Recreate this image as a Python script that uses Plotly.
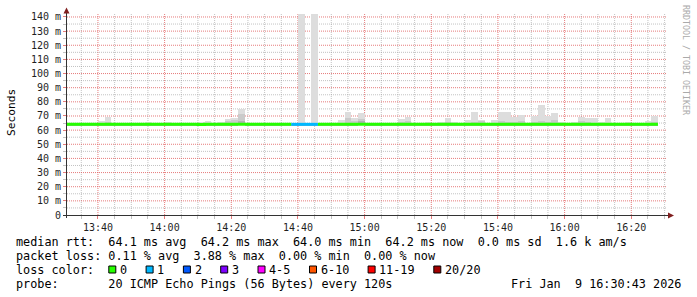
import pandas as pd
import plotly.graph_objects as go

# ---------------- data ----------------
step_start = pd.date_range("2026-01-09 13:30", periods=89, freq="2min")

smoke_lo = [63.6] * 89
smoke_hi = [
    64.8, 64.8, 64.8, 64.8, 64.8,            # 13:30-13:38
    66.5, 69.3, 64.8, 64.8, 64.8,            # 13:40-13:48
    64.8, 65.3, 65.8, 64.8, 64.8,            # 13:50-13:58
    65.8, 64.8, 65.3, 64.8, 64.8,            # 14:00-14:08
    65.8, 66.7, 64.8, 65.8, 67.9,            # 14:10-14:18
    68.6, 75.0, 64.8, 64.8, 64.8,            # 14:20-14:28
    64.8, 64.8, 65.3, 64.8, 64.8,            # 14:30-14:38
    142.0, 64.8, 142.0, 64.8, 64.8,          # 14:40-14:48
    64.8, 67.2, 73.1, 68.8, 72.1,            # 14:50-14:58
    64.8, 64.8, 64.8, 64.8, 64.8,            # 15:00-15:08
    67.9, 69.3, 64.8, 65.3, 66.0,            # 15:10-15:18
    64.8, 66.0, 68.8, 66.0, 65.3,            # 15:20-15:28
    67.2, 73.1, 67.2, 64.8, 67.2,            # 15:30-15:38
    73.1, 73.1, 69.3, 70.7, 64.8,            # 15:40-15:48
    69.8, 77.8, 69.8, 71.9, 65.5,            # 15:50-15:58
    65.0, 66.0, 69.6, 68.4, 68.4,            # 16:00-16:08
    65.5, 68.8, 65.3, 65.0, 65.5,            # 16:10-16:18
    64.8, 64.8, 66.6, 69.8,                  # 16:20-16:26
]
smoke_mid = [
    64.5, 64.5, 64.5, 64.5, 64.5,
    65.0, 66.0, 64.5, 64.5, 64.5,
    64.5, 64.5, 64.5, 64.5, 64.5,
    64.5, 64.5, 64.5, 64.5, 64.5,
    64.5, 64.5, 64.5, 64.5, 66.2,
    67.2, 71.5, 64.5, 64.5, 64.5,
    64.5, 64.5, 64.5, 64.5, 64.5,
    64.5, 64.5, 64.5, 64.5, 64.5,
    64.5, 64.5, 68.8, 66.5, 67.9,
    64.5, 64.5, 64.5, 64.5, 64.5,
    65.5, 66.2, 64.5, 64.5, 64.5,
    64.5, 64.5, 65.8, 64.5, 64.5,
    64.5, 66.0, 66.2, 64.5, 64.5,
    66.5, 66.0, 66.0, 66.5, 64.5,
    65.5, 66.5, 66.0, 67.2, 64.5,
    64.5, 64.5, 66.5, 66.0, 64.5,
    64.5, 64.5, 64.5, 64.5, 64.5,
    64.5, 64.5, 64.5, 66.0,
]
smoke_in = [64.5] * 89
smoke_in[26] = 66.5
smoke_in[44] = 66.6

median = [64.1] * 89
median[20] = 64.0
median[47] = 64.2
median[88] = 64.2

loss = [0] * 89
loss[34] = 1
loss[35] = 1
loss[36] = 1
loss[37] = 1

loss_labels = ["0", "1", "2", "3", "4-5", "6-10", "11-19", "20/20"]
loss_colors = ["#26ff00", "#00b8ff", "#0059ff", "#7e00ff", "#ff00ff", "#ff5500", "#ff0000", "#a10000"]

y_tickvals = list(range(0, 141, 10))
y_ticktext = ["0"] + [f"{v} m" for v in y_tickvals[1:]]
y_minorvals = list(range(5, 141, 10))

x_start, x_end = "2026-01-09 13:30:43", "2026-01-09 16:30:43"
x_majorvals = list(pd.date_range("2026-01-09 13:40", "2026-01-09 16:20", freq="20min"))
x_minorvals = [t for t in pd.date_range("2026-01-09 13:35", "2026-01-09 16:30", freq="5min")
               if t.minute % 20 != 0]

stats_rtt = "median rtt:  64.1 ms avg  64.2 ms max  64.0 ms min  64.2 ms now  0.0 ms sd  1.6 k am/s"
stats_loss = "packet loss: 0.11 % avg  3.88 % max  0.00 % min  0.00 % now"
probe_text = "probe:       20 ICMP Echo Pings (56 Bytes) every 120s"
stamp_text = "Fri Jan  9 16:30:43 2026"

# ---------------- layout helpers ----------------
W, H = 697, 297
L, R, T, B = 67, 667, 14, 215
PW, PH = R - L, B - T
MONO = "DejaVu Sans Mono"


def xp(px):
    return (px - L) / PW


def yp(py):
    return (B - py) / PH


def nb(s):
    return s.replace(" ", "\u00a0")


step = pd.Timedelta(minutes=2)
step_ms = 120000

fig = go.Figure()

# smoke layers
for top, bot, col in [(smoke_hi, smoke_lo, "#dddddd"),
                      (smoke_mid, smoke_lo, "#cacaca"),
                      (smoke_in, smoke_lo, "#b2b2b2")]:
    fig.add_trace(go.Bar(
        x=step_start, y=[a - b for a, b in zip(top, bot)], base=bot,
        width=step_ms, offset=0, marker=dict(color=col, line=dict(width=0)),
        hoverinfo="skip", showlegend=False))


def loss_idx(v):
    if v <= 3:
        return v
    if v <= 5:
        return 4
    if v <= 10:
        return 5
    if v <= 19:
        return 6
    return 7


# median line coloured by loss
for ci, col in enumerate(loss_colors):
    xs, ys = [], []
    i = 0
    n = len(median)
    while i < n:
        if loss_idx(loss[i]) == ci:
            j = i
            while j < n and loss_idx(loss[j]) == ci:
                xs.append(step_start[j])
                ys.append(median[j])
                j += 1
            xs.append(step_start[j - 1] + step)
            ys.append(median[j - 1])
            xs.append(None)
            ys.append(None)
            i = j
        else:
            i += 1
    if xs:
        fig.add_trace(go.Scatter(x=xs, y=ys, mode="lines", line=dict(color=col, width=3, shape="hv"),
                                 hoverinfo="skip", showlegend=False))

major_grid = "rgba(222,79,79,0.75)"
minor_grid = "rgba(143,143,143,0.55)"
GRID_DASH = "1px,1px"

fig.update_layout(
    width=W, height=H, margin=dict(l=L, r=W - R, t=T, b=H - B),
    paper_bgcolor="white", plot_bgcolor="white",
    barmode="overlay", bargap=0, showlegend=False,
    font=dict(family=MONO, size=10, color="#1f1f1f"),
    xaxis=dict(
        type="date", range=[x_start, x_end],
        tickmode="array", tickvals=x_majorvals, tickformat="%H:%M",
        showgrid=False, ticks="outside", ticklen=3, tickcolor=major_grid, tickwidth=1,
        minor=dict(tickmode="array", tickvals=x_minorvals, showgrid=False,
                   ticks="outside", ticklen=3, tickcolor=minor_grid),
        showline=False, zeroline=False, fixedrange=True,
        tickfont=dict(family=MONO, size=10, color="#1f1f1f"),
    ),
    yaxis=dict(
        range=[0, 142.1], tickmode="array", tickvals=y_tickvals, ticktext=y_ticktext,
        showgrid=False, ticks="outside", ticklen=3, tickcolor=major_grid, tickwidth=1,
        minor=dict(tickmode="array", tickvals=y_minorvals, showgrid=False,
                   ticks="outside", ticklen=3, tickcolor=minor_grid),
        showline=False, zeroline=False, fixedrange=True,
        tickfont=dict(family=MONO, size=10, color="#1f1f1f"),
    ),
)

shapes = []
# grid (minor first, major on top), positioned through the axes
for vals, col in [(x_minorvals, minor_grid), (x_majorvals, major_grid)]:
    for t in vals:
        shapes.append(dict(type="line", xref="x", yref="paper", x0=t, x1=t, y0=0, y1=1,
                           layer="below", line=dict(color=col, width=1, dash=GRID_DASH)))
for vals, col in [(y_minorvals, minor_grid), (y_tickvals[1:], major_grid)]:
    for v in vals:
        shapes.append(dict(type="line", xref="paper", yref="y", x0=0, x1=1, y0=v, y1=v,
                           layer="below", line=dict(color=col, width=1, dash=GRID_DASH)))

# axis lines
shapes.append(dict(type="line", xref="paper", yref="paper", x0=xp(66.5), x1=xp(66.5),
                   y0=yp(218), y1=yp(11), line=dict(color="#333333", width=1)))
shapes.append(dict(type="line", xref="paper", yref="paper", x0=xp(63), x1=xp(669),
                   y0=yp(215.5), y1=yp(215.5), line=dict(color="#333333", width=1)))
# arrows
shapes.append(dict(type="path", xref="paper", yref="paper",
                   path=f"M {xp(63.5)},{yp(13.5)} L {xp(69.5)},{yp(13.5)} L {xp(66.5)},{yp(7.5)} Z",
                   fillcolor="#801f1f", line=dict(width=0)))
shapes.append(dict(type="path", xref="paper", yref="paper",
                   path=f"M {xp(668)},{yp(212.5)} L {xp(668)},{yp(218.5)} L {xp(674)},{yp(215.5)} Z",
                   fillcolor="#801f1f", line=dict(width=0)))

annotations = []


def add_text(text, px, py, size=11.8, color="#000000", xanchor="left", angle=0):
    annotations.append(dict(text=nb(text), x=xp(px), y=yp(py), xref="paper", yref="paper",
                            xanchor=xanchor, yanchor="middle", showarrow=False, textangle=angle,
                            borderpad=0, borderwidth=0,
                            font=dict(family=MONO, size=size, color=color)))


CW = 7.1
add_text(stats_rtt, 16, 241.5)
add_text(stats_loss, 16, 255.5)
add_text("loss color:", 16, 269.5)
add_text(probe_text, 16, 283.5)
add_text(stamp_text, 681, 283.5, xanchor="right")

# loss colour squares
sx = 108.3
for lab, col in zip(loss_labels, loss_colors):
    shapes.append(dict(type="rect", xref="paper", yref="paper", x0=xp(sx + 0.5), x1=xp(sx + 7.5),
                       y0=yp(273), y1=yp(266), fillcolor=col, line=dict(color="#000000", width=1)))
    lx = sx + 11.7
    add_text(lab, lx, 269.5)
    sx = lx + len(lab) * CW + 18.5

# axis title and watermark
add_text("Seconds", 11, 113, size=11.2, xanchor="center", angle=-90)
add_text("RRDTOOL / TOBI OETIKER", 686, 60, size=8.3, color="#aaaaaa", xanchor="center", angle=90)

fig.update_layout(shapes=shapes, annotations=annotations)

fig.write_html("out.html")
